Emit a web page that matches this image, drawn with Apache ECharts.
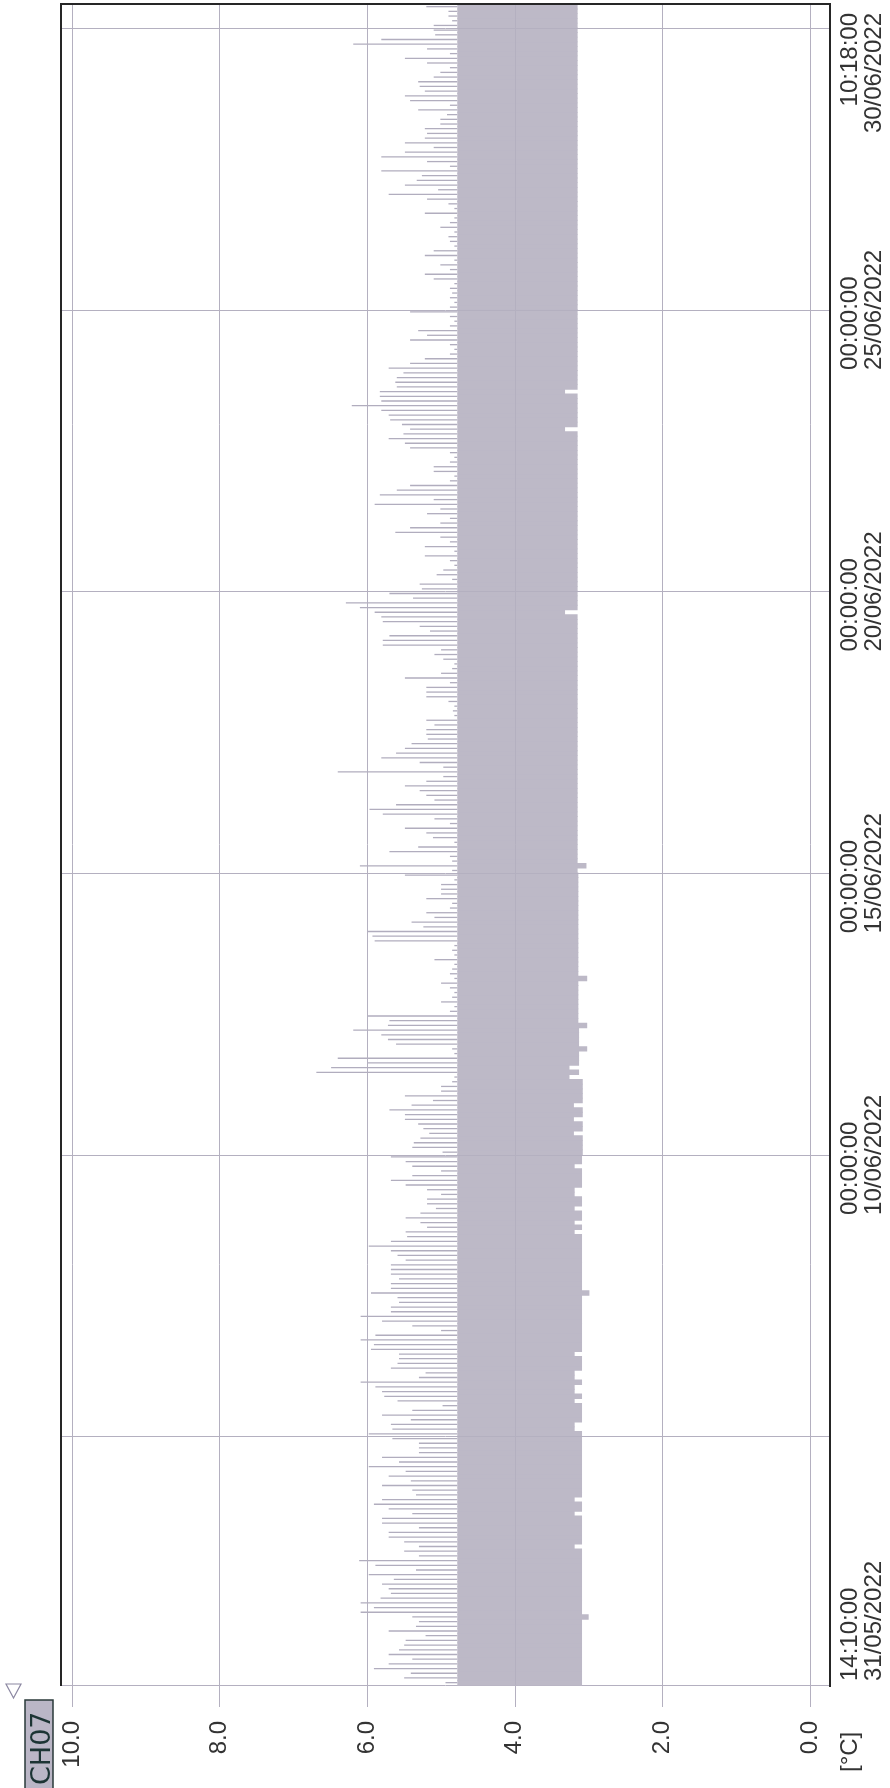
<!DOCTYPE html>
<html>
<head>
<meta charset="utf-8">
<script src="https://cdn.jsdelivr.net/npm/echarts@6.0.0/dist/echarts.min.js"></script>
<style>
html,body{margin:0;padding:0;background:#ffffff;}
#chart{width:890px;height:1788px;}
</style>
</head>
<body>
<div id="chart"></div>
<script>
// ================= DATA =================
const channelName = 'CH07';
const unitLabel = '[°C]';
const valueTicks = [0, 2, 4, 6, 8, 10];
const startTime = Date.UTC(2022, 4, 31, 14, 10, 0);   // 14:10:00 31/05/2022
const endTime   = Date.UTC(2022, 5, 30, 10, 18, 0);   // 10:18:00 30/06/2022
const labelTimes = [
  Date.UTC(2022, 4, 31, 14, 10, 0),
  Date.UTC(2022, 5, 10, 0, 0, 0),
  Date.UTC(2022, 5, 15, 0, 0, 0),
  Date.UTC(2022, 5, 20, 0, 0, 0),
  Date.UTC(2022, 5, 25, 0, 0, 0),
  Date.UTC(2022, 5, 30, 10, 18, 0)
];
const gridTimes = [
  Date.UTC(2022, 5, 5), Date.UTC(2022, 5, 10), Date.UTC(2022, 5, 15),
  Date.UTC(2022, 5, 20), Date.UTC(2022, 5, 25), Date.UTC(2022, 5, 30)
];
const cycleHours = 2;        // one low + one high reading per cycle
const denseBandTop = 4.78;   // upper edge of the solid grey band

// Peak (high) values per cycle, listed as read from top to bottom of each
// 5-day band of the picture (newest first).
const peaksG = [5.20,4.90,4.90,4.85,5.10];                       // 30/06 00:00 -> 10:18
const peaksF = [                                                  // 25/06 -> 30/06
  5.10,5.08,5.81,6.19,5.19,4.88,5.49,5.19,4.88,5.01,
  5.10,5.31,5.29,5.22,5.49,5.42,4.88,5.31,4.92,5.01,
  5.01,5.22,5.19,5.22,5.49,5.10,5.49,5.81,5.19,4.88,
  5.81,5.26,5.33,5.49,5.04,5.71,5.19,4.90,4.82,5.22,
  4.82,4.88,5.01,4.82,4.90,4.88,4.82,5.10,5.22,4.82,
  5.01,4.88,5.22,5.10,4.82,4.88,4.85,4.88,4.82,4.88];
const peaksE = [                                                  // 20/06 -> 25/06
  5.42,4.88,4.82,4.88,5.31,5.19,5.42,4.88,4.82,4.88,
  5.22,5.42,5.71,5.51,5.60,5.62,5.60,5.83,5.83,5.81,
  6.21,5.81,5.71,5.69,5.53,5.42,5.51,5.71,5.49,5.42,
  4.88,4.82,4.88,5.10,5.10,4.82,4.88,5.42,5.60,5.83,
  5.10,5.90,5.01,5.19,4.88,5.01,5.42,5.62,5.01,4.88,
  5.22,4.82,5.22,4.88,4.82,4.97,5.06,4.85,5.29,5.26];
const peaksD = [                                                  // 15/06 -> 20/06
  5.70,5.38,6.29,6.10,5.90,5.81,5.79,5.29,5.15,5.70,
  5.79,5.79,5.00,5.09,4.97,4.82,4.85,5.00,5.49,4.88,
  5.20,5.20,5.20,4.90,4.82,4.84,4.82,5.20,5.09,5.20,
  5.20,5.18,5.40,5.49,5.61,5.81,5.29,4.97,6.40,4.97,
  5.20,5.49,5.29,5.20,5.09,5.61,5.97,5.79,5.09,4.88,
  5.49,5.20,5.11,4.82,5.31,5.70,4.88,4.85,6.10,4.85];
const peaksC = [                                                  // 10/06 -> 15/06
  5.49,4.82,5.00,5.00,5.00,5.20,4.85,4.88,5.20,5.09,
  5.40,5.24,5.99,5.93,5.90,4.82,4.85,4.82,5.09,4.82,
  4.85,4.88,4.82,5.00,4.88,4.82,4.85,5.00,4.82,4.88,
  5.99,5.70,5.72,6.19,5.81,5.72,5.61,4.85,4.82,6.40,
  5.99,6.49,6.69,4.82,4.85,5.00,5.00,5.49,5.11,5.40,
  5.70,5.49,5.49,5.31,5.24,5.16,5.28,5.37,5.39,4.98];
const peaksB = [                                                  // 05/06 -> 10/06
  5.68,5.48,5.39,5.00,5.39,5.68,5.48,5.19,5.00,5.19,
  5.19,5.07,5.28,5.48,5.28,5.19,5.48,5.46,5.68,5.98,
  5.68,5.59,5.48,5.68,5.68,5.68,5.57,5.68,5.68,5.95,
  5.59,5.57,5.68,5.68,6.09,5.80,5.39,5.00,5.89,6.09,
  5.91,5.95,5.57,5.57,5.59,5.68,5.21,5.30,6.09,5.89,
  5.80,5.77,5.59,4.98,5.39,5.80,5.41,5.68,5.66,5.98];
const peaksA = [                                                  // 31/05 14:10 -> 05/06
  5.66,5.30,5.30,5.30,5.80,5.57,5.98,5.48,5.71,5.41,
  5.80,5.39,5.34,5.80,5.91,5.71,5.39,5.80,5.80,5.30,
  5.71,5.71,5.50,5.30,5.50,5.30,6.11,5.89,5.34,5.98,
  5.64,5.80,5.71,5.68,5.82,6.09,5.91,6.09,5.39,5.30,
  5.34,5.71,5.21,5.48,5.50,5.57,5.71,5.39,5.71,5.91,
  5.41,5.50,4.94];

// Low values per cycle, same order (newest first within each band).
const troughsG = [3.15,3.15,3.15,3.15,3.15];
const troughsF = [
  3.15,3.15,3.15,3.15,3.15,3.15,3.15,3.15,3.15,3.15,
  3.15,3.15,3.15,3.15,3.15,3.15,3.15,3.15,3.15,3.15,
  3.15,3.15,3.15,3.15,3.15,3.15,3.15,3.15,3.15,3.15,
  3.15,3.15,3.15,3.15,3.15,3.15,3.15,3.15,3.15,3.15,
  3.15,3.15,3.15,3.15,3.15,3.15,3.15,3.15,3.15,3.15,
  3.15,3.15,3.15,3.15,3.15,3.15,3.15,3.15,3.15,3.15];
const troughsE = [
  3.15,3.15,3.15,3.15,3.15,3.15,3.15,3.15,3.15,3.15,
  3.15,3.15,3.15,3.15,3.15,3.15,3.15,3.32,3.15,3.15,
  3.15,3.15,3.15,3.15,3.15,3.32,3.15,3.15,3.15,3.15,
  3.15,3.15,3.15,3.15,3.15,3.15,3.15,3.15,3.15,3.15,
  3.15,3.15,3.15,3.15,3.15,3.15,3.15,3.15,3.15,3.15,
  3.15,3.15,3.15,3.15,3.15,3.15,3.15,3.15,3.15,3.15];
const troughsD = [
  3.15,3.15,3.15,3.15,3.32,3.15,3.15,3.15,3.15,3.15,
  3.15,3.15,3.15,3.15,3.15,3.15,3.15,3.15,3.15,3.15,
  3.15,3.15,3.15,3.15,3.15,3.15,3.15,3.15,3.15,3.15,
  3.15,3.15,3.15,3.15,3.15,3.15,3.15,3.15,3.15,3.15,
  3.15,3.15,3.15,3.15,3.15,3.15,3.15,3.15,3.15,3.15,
  3.15,3.15,3.15,3.15,3.15,3.15,3.15,3.15,3.03,3.15];
const troughsC = [
  3.14,3.14,3.14,3.14,3.14,3.14,3.14,3.14,3.14,3.14,
  3.14,3.14,3.14,3.14,3.14,3.14,3.14,3.14,3.14,3.14,
  3.14,3.14,3.02,3.14,3.14,3.14,3.14,3.14,3.14,3.14,
  3.14,3.14,3.02,3.13,3.13,3.13,3.13,3.02,3.13,3.13,
  3.13,3.26,3.13,3.26,3.08,3.08,3.08,3.08,3.08,3.20,
  3.08,3.08,3.20,3.08,3.08,3.20,3.08,3.08,3.08,3.08];
const troughsB = [
  3.09,3.09,3.19,3.09,3.09,3.09,3.09,3.19,3.19,3.09,
  3.09,3.19,3.09,3.09,3.19,3.09,3.19,3.09,3.09,3.09,
  3.09,3.09,3.09,3.09,3.09,3.09,3.09,3.09,3.09,2.99,
  3.09,3.09,3.09,3.09,3.09,3.09,3.09,3.09,3.09,3.09,
  3.09,3.09,3.19,3.09,3.09,3.09,3.19,3.19,3.09,3.19,
  3.19,3.09,3.19,3.09,3.09,3.09,3.09,3.19,3.19,3.09];
const troughsA = [
  3.09,3.09,3.09,3.09,3.09,3.09,3.09,3.09,3.09,3.09,
  3.09,3.09,3.09,3.19,3.09,3.09,3.19,3.09,3.09,3.09,
  3.09,3.09,3.09,3.19,3.09,3.09,3.09,3.09,3.09,3.09,
  3.09,3.09,3.09,3.09,3.09,3.09,3.09,3.09,3.00,3.09,
  3.09,3.09,3.09,3.09,3.09,3.09,3.09,3.09,3.09,3.09,
  3.09,3.09,3.09];

// ================= BUILD =================
const chrono = parts => parts.flatMap(a => a.slice().reverse());
const peaks = chrono([peaksA, peaksB, peaksC, peaksD, peaksE, peaksF, peaksG]);
const troughs = chrono([troughsA, troughsB, troughsC, troughsD, troughsE, troughsF, troughsG]);
const HOUR = 3600 * 1000;
const cycleData = peaks.map((p, i) => {
  const t = startTime + i * cycleHours * HOUR;
  return [troughs[i], p, t, Math.min(t + cycleHours * HOUR, endTime)];
});

const GRID = { left: 61, right: 60, top: 4, bottom: 103 };
const W = 890, Hgt = 1788;
const FONT = '"Liberation Sans", Arial, sans-serif';
const TEXT_COLOR = '#333333';
const GRID_COLOR = '#b4b0c0';
const BAND_COLOR = '#bdb9c7';
const SPIKE_COLOR = '#b1adbe';

const chart = echarts.init(document.getElementById('chart'), null, { renderer: 'canvas' });

const option = {
  animation: false,
  backgroundColor: '#ffffff',
  grid: { left: GRID.left, right: GRID.right, top: GRID.top, bottom: GRID.bottom, containLabel: false },
  xAxis: {
    type: 'value',
    min: -0.27,
    max: 10.15,
    inverse: true,
    position: 'bottom',
    axisLine: { show: true, lineStyle: { color: GRID_COLOR, width: 1 } },
    axisTick: { show: true, customValues: valueTicks, length: 22, lineStyle: { color: GRID_COLOR, width: 1 } },
    axisLabel: {
      show: true, customValues: valueTicks, rotate: 90, margin: 36,
      formatter: v => Number(v).toFixed(1),
      fontFamily: FONT, fontSize: 24, color: TEXT_COLOR
    },
    splitLine: { show: false }
  },
  yAxis: {
    type: 'value',
    min: startTime,
    max: endTime,
    position: 'right',
    axisLine: { show: false },
    axisTick: { show: false },
    axisLabel: { show: false },
    splitLine: { show: false }
  },
  series: [
    {
      // grid lines at the value ticks and at the date marks
      type: 'line',
      data: [],
      silent: true,
      z: 1,
      markLine: {
        silent: true,
        symbol: 'none',
        label: { show: false },
        lineStyle: { color: GRID_COLOR, width: 1, type: 'solid' },
        data: valueTicks.map(v => ({ xAxis: v })).concat(gridTimes.map(t => ({ yAxis: t })))
      }
    },
    {
      type: 'custom',
      coordinateSystem: 'cartesian2d',
      data: cycleData,
      encode: { x: [0, 1], y: [2, 3] },
      z: 2,
      silent: true,
      renderItem: (params, api) => {
        const lo = api.value(0), hi = api.value(1), ta = api.value(2), tb = api.value(3);
        const a = api.coord([lo, ta]);
        const b = api.coord([Math.min(hi, denseBandTop), tb]);
        const children = [{
          type: 'rect',
          shape: {
            x: Math.min(a[0], b[0]), y: Math.min(a[1], b[1]) - 0.4,
            width: Math.abs(a[0] - b[0]), height: Math.abs(a[1] - b[1]) + 0.8
          },
          style: { fill: BAND_COLOR }
        }];
        if (hi > denseBandTop) {
          const tm = (ta + tb) / 2;
          const c = api.coord([denseBandTop, tm]);
          const d = api.coord([hi, tm]);
          children.push({
            type: 'line',
            shape: { x1: c[0], y1: c[1], x2: d[0], y2: d[1] },
            style: { stroke: SPIKE_COLOR, lineWidth: 1.3 }
          });
        }
        return { type: 'group', children: children };
      }
    }
  ]
};
chart.setOption(option);

// ---------- text and frame pieces ----------
const pad = n => String(n).padStart(2, '0');
const fmtTime = t => {
  const d = new Date(t);
  return pad(d.getUTCHours()) + ':' + pad(d.getUTCMinutes()) + ':' + pad(d.getUTCSeconds()) + '\n' +
         pad(d.getUTCDate()) + '/' + pad(d.getUTCMonth() + 1) + '/' + d.getUTCFullYear();
};
const mctx = document.createElement('canvas').getContext('2d');
mctx.font = '24px ' + FONT;

const plotRight = W - GRID.right;
const plotBottom = Hgt - GRID.bottom;
const graphics = [];
const labelX = plotRight + 8;
labelTimes.forEach((t, i) => {
  const txt = fmtTime(t);
  const y = chart.convertToPixel({ yAxisIndex: 0 }, t);
  let align = 'left', yy;
  if (i === 0) { yy = y - 4; }
  else if (i === labelTimes.length - 1) { align = 'right'; yy = y + 9; }
  else {
    const w = Math.max.apply(null, txt.split('\n').map(s => mctx.measureText(s).width));
    yy = y + w / 2;
  }
  graphics.push({
    type: 'text', x: labelX, y: yy, rotation: Math.PI / 2, z: 10,
    style: { text: txt, font: '24px ' + FONT, fill: TEXT_COLOR,
             align: align, textAlign: align, verticalAlign: 'top', textVerticalAlign: 'top', lineHeight: 24 }
  });
});
graphics.push({
  type: 'text', x: labelX, y: plotBottom + 87, rotation: Math.PI / 2, z: 10,
  style: { text: unitLabel, font: '24px ' + FONT, fill: TEXT_COLOR,
           align: 'left', textAlign: 'left', verticalAlign: 'top', textVerticalAlign: 'top' }
});
// frame (top, left, right dark lines)
graphics.push({
  type: 'polyline', z: 10,
  shape: { points: [[GRID.left, plotBottom + 1], [GRID.left, GRID.top], [plotRight, GRID.top], [plotRight, plotBottom + 2]] },
  style: { stroke: '#262626', lineWidth: 2, fill: null }
});
// channel tag
graphics.push({
  type: 'rect', z: 10,
  shape: { x: 25, y: 1700, width: 28, height: 100 },
  style: { fill: '#bab6c6', stroke: '#2a3a3a', lineWidth: 1.5 }
});
graphics.push({
  type: 'text', x: 29, y: 1785, rotation: Math.PI / 2, z: 11,
  style: { text: channelName, font: '27px "DejaVu Sans", sans-serif', fill: '#1c3434',
           align: 'left', textAlign: 'left', verticalAlign: 'top', textVerticalAlign: 'top' }
});
graphics.push({
  type: 'polygon', z: 10,
  shape: { points: [[6, 1684], [21, 1684], [13.5, 1698]] },
  style: { stroke: '#8c88a2', lineWidth: 1.2, fill: '#ffffff' }
});
chart.setOption({ graphic: graphics });
</script>
</body>
</html>
